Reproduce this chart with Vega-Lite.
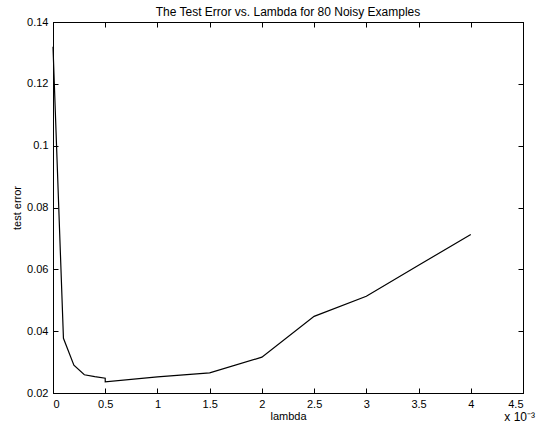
{
  "$schema": "https://vega.github.io/schema/vega-lite/v6.json",
  "autosize": "none",
  "width": 470,
  "height": 371,
  "padding": {"left": 53, "top": 22, "right": 18, "bottom": 42},
  "background": "white",
  "config": {
    "font": "Liberation Sans",
    "view": {"stroke": "black", "strokeWidth": 1},
    "axis": {
      "grid": false,
      "domainColor": "black",
      "tickColor": "black",
      "labelColor": "black",
      "titleColor": "black",
      "labelFont": "Liberation Sans",
      "titleFont": "Liberation Sans",
      "labelFontSize": 11,
      "titleFontSize": 11,
      "titleFontWeight": "normal",
      "tickSize": -5
    }
  },
  "title": {
    "text": "The Test Error vs. Lambda for 80 Noisy Examples",
    "font": "Liberation Sans",
    "fontSize": 12,
    "fontWeight": "normal",
    "color": "black",
    "offset": -3
  },
  "data": {
    "values": [
      {"i": 0, "lambda": 0.0, "error": 0.132},
      {"i": 1, "lambda": 0.0001, "error": 0.0377},
      {"i": 2, "lambda": 0.0002, "error": 0.029},
      {"i": 3, "lambda": 0.0003, "error": 0.0259},
      {"i": 4, "lambda": 0.0004, "error": 0.0253},
      {"i": 5, "lambda": 0.0005, "error": 0.0248},
      {"i": 6, "lambda": 0.0005, "error": 0.0236},
      {"i": 7, "lambda": 0.001, "error": 0.0252},
      {"i": 8, "lambda": 0.0015, "error": 0.0265},
      {"i": 9, "lambda": 0.002, "error": 0.0316},
      {"i": 10, "lambda": 0.0025, "error": 0.0448},
      {"i": 11, "lambda": 0.003, "error": 0.0513},
      {"i": 12, "lambda": 0.0035, "error": 0.0613},
      {"i": 13, "lambda": 0.004, "error": 0.0713}
    ]
  },
  "layer": [
    {
      "mark": {"type": "line", "color": "black", "strokeWidth": 1.2},
      "encoding": {
        "x": {
          "field": "lambda", "type": "quantitative",
          "scale": {"domain": [0, 0.0045], "nice": false},
          "axis": {
            "orient": "bottom",
            "values": [0, 0.0005, 0.001, 0.0015, 0.002, 0.0025, 0.003, 0.0035, 0.004, 0.0045],
            "labelExpr": "format(datum.value*1000, '~g')",
            "title": "lambda",
            "labelPadding": 10,
            "titlePadding": 1
          }
        },
        "y": {
          "field": "error", "type": "quantitative",
          "scale": {"domain": [0.02, 0.14], "nice": false, "zero": false},
          "axis": {
            "orient": "left",
            "values": [0.02, 0.04, 0.06, 0.08, 0.1, 0.12, 0.14],
            "labelExpr": "format(datum.value, '.2~f')",
            "title": "test error",
            "labelPadding": 10,
            "titlePadding": 4
          }
        },
        "order": {"field": "i", "type": "quantitative"}
      }
    },
    {
      "mark": {"type": "line", "opacity": 0},
      "encoding": {
        "x": {
          "field": "lambda", "type": "quantitative",
          "axis": {
            "orient": "top",
            "values": [0, 0.0005, 0.001, 0.0015, 0.002, 0.0025, 0.003, 0.0035, 0.004, 0.0045],
            "labels": false,
            "title": null
          }
        },
        "y": {
          "field": "error", "type": "quantitative",
          "axis": {
            "orient": "right",
            "values": [0.02, 0.04, 0.06, 0.08, 0.1, 0.12, 0.14],
            "labels": false,
            "title": null
          }
        }
      }
    },
    {
      "data": {"values": [{"label": "x 10⁻³"}]},
      "mark": {"type": "text", "align": "right", "baseline": "middle", "dx": 12, "dy": 24, "fontSize": 12, "color": "black", "font": "Liberation Sans", "clip": false},
      "encoding": {
        "text": {"field": "label"},
        "x": {"datum": 0.0045, "type": "quantitative", "axis": null},
        "y": {"datum": 0.02, "type": "quantitative", "axis": null}
      }
    }
  ],
  "resolve": {"axis": {"x": "independent", "y": "independent"}}
}
